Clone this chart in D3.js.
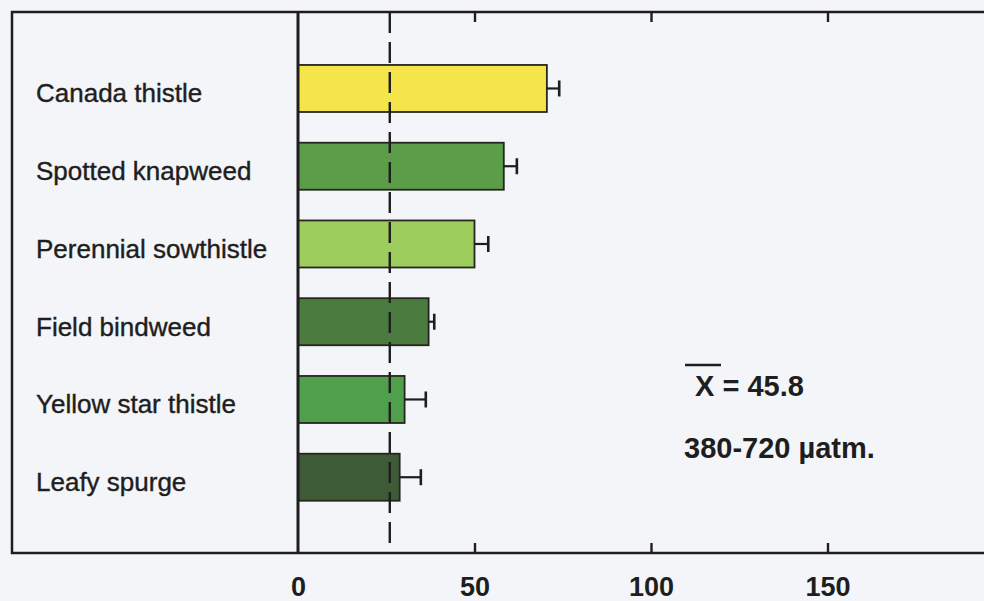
<!DOCTYPE html>
<html>
<head>
<meta charset="utf-8">
<script src="https://cdn.jsdelivr.net/npm/d3@7"></script>
<style>
  html, body { margin: 0; padding: 0; background: #f4f5f8; }
  svg { display: block; }
  text { font-family: "Liberation Sans", Arial, Helvetica, sans-serif; }
</style>
</head>
<body>
<svg id="chart" width="984" height="601"></svg>
<script>
// Weed species and their mean response, with one-sided error bars
const species = ["Canada thistle", "Spotted knapweed", "Perennial sowthistle",
                 "Field bindweed", "Yellow star thistle", "Leafy spurge"];
const means = [70.5, 58.3, 50.0, 37.0, 30.2, 28.8];
const errors = [3.5, 3.7, 3.9, 1.6, 6.0, 6.0];
const barColors = ["#f6e54a", "#5b9d49", "#9dcd5d", "#4b7b3f", "#50a04b", "#3e5b37"];
const xTicks = [0, 50, 100, 150];
const referenceValue = 26;
const meanLabel = "X = 45.8";
const rangeLabel = "380-720 µatm.";

const svg = d3.select("#chart");

// Frame of the plot
const frame = { left: 12, top: 12, right: 992, bottom: 553 };

const x = d3.scaleLinear().domain([0, 200]).range([298, 1004]);
const y = d3.scaleBand()
  .domain(species)
  .range([49.6, 516.1])
  .paddingInner(0.395)
  .paddingOuter(0.1975);

const ink = "#1e1e1e";

// Outer frame
svg.append("rect")
  .attr("x", frame.left).attr("y", frame.top)
  .attr("width", frame.right - frame.left)
  .attr("height", frame.bottom - frame.top)
  .attr("fill", "none").attr("stroke", ink).attr("stroke-width", 2.5);

// Bars
svg.append("g").selectAll("rect")
  .data(species)
  .join("rect")
  .attr("x", x(0))
  .attr("y", d => y(d))
  .attr("width", (d, i) => x(means[i]) - x(0))
  .attr("height", y.bandwidth())
  .attr("fill", (d, i) => barColors[i])
  .attr("stroke", "#26261f").attr("stroke-width", 1.8);

// Error bars (upper side only)
const eb = svg.append("g").attr("stroke", ink).attr("stroke-width", 2.2);
species.forEach((s, i) => {
  const cy = y(s) + y.bandwidth() / 2;
  eb.append("line")
    .attr("x1", x(means[i])).attr("x2", x(means[i] + errors[i]))
    .attr("y1", cy).attr("y2", cy);
  eb.append("line")
    .attr("x1", x(means[i] + errors[i])).attr("x2", x(means[i] + errors[i]))
    .attr("y1", cy - 8).attr("y2", cy + 8)
    .attr("stroke-width", 2.6);
});

// Dashed reference line
svg.append("line")
  .attr("x1", x(referenceValue)).attr("x2", x(referenceValue))
  .attr("y1", frame.top).attr("y2", frame.bottom)
  .attr("stroke", ink).attr("stroke-width", 2.4)
  .attr("stroke-dasharray", "21,9");

// Zero axis line
svg.append("line")
  .attr("x1", x(0)).attr("x2", x(0))
  .attr("y1", frame.top).attr("y2", frame.bottom)
  .attr("stroke", ink).attr("stroke-width", 3);

// Bottom axis: inward ticks and bold labels
const bottomAxis = d3.axisTop(x).tickValues(xTicks).tickSize(10).tickFormat(d3.format("d"));
const gb = svg.append("g").attr("transform", `translate(0,${frame.bottom})`).call(bottomAxis);
gb.select(".domain").remove();
gb.selectAll(".tick line").attr("stroke", ink).attr("stroke-width", 2.4)
  .filter(d => d === 0).remove();
gb.selectAll(".tick text")
  .attr("y", 43).attr("dy", null)
  .attr("font-size", 27).attr("font-weight", "bold")
  .attr("fill", ink).attr("text-anchor", "middle")
  .style("font-family", "'Liberation Sans', Arial, sans-serif");

// Top axis: inward ticks, no labels
const topAxis = d3.axisBottom(x).tickValues(xTicks.filter(t => t > 0)).tickSize(10).tickFormat("");
const gt = svg.append("g").attr("transform", `translate(0,${frame.top})`).call(topAxis);
gt.select(".domain").remove();
gt.selectAll(".tick line").attr("stroke", ink).attr("stroke-width", 2.4);

// Category labels
svg.append("g").selectAll("text")
  .data(species)
  .join("text")
  .attr("x", 36)
  .attr("y", d => y(d) + y.bandwidth() / 2 + 14)
  .attr("font-size", 26)
  .attr("fill", ink)
  .attr("stroke", ink).attr("stroke-width", 0.4)
  .text(d => d);

// Annotation: mean and CO2 range
const ann = svg.append("g").attr("fill", ink).attr("font-weight", "bold").attr("font-size", 29);
ann.append("text").attr("x", 695).attr("y", 396).text(meanLabel);
ann.append("line")
  .attr("x1", 685).attr("x2", 721).attr("y1", 365).attr("y2", 365)
  .attr("stroke", ink).attr("stroke-width", 2.6);
ann.append("text").attr("x", 684).attr("y", 458).text(rangeLabel);
</script>
</body>
</html>
